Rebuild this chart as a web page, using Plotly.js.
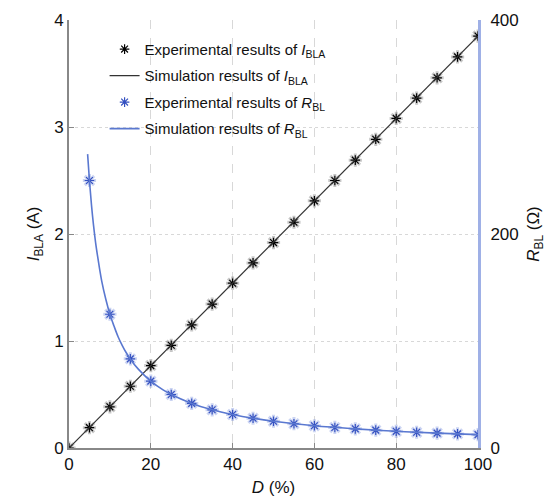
<!DOCTYPE html>
<html>
<head>
<meta charset="utf-8">
<script src="https://cdn.plot.ly/plotly-3.0.1.min.js"></script>
<style>body{margin:0;background:#fff}#c{width:552px;height:500px}</style>
</head>
<body>
<div id="c"></div>
<script>
// Experimental duty cycle D (%)
const dExpI = [0,5,10,15,20,25,30,35,40,45,50,55,60,65,70,75,80,85,90,95,100];
const iExp = [0,0.19,0.385,0.577,0.77,0.96,1.15,1.345,1.54,1.73,1.92,2.11,2.31,2.5,2.69,2.885,3.08,3.27,3.46,3.655,3.85];
const dExpR = [5,10,15,20,25,30,35,40,45,50,55,60,65,70,75,80,85,90,95,100];
const rExp = [250,125,83.3,62.5,50,41.7,35.7,31.3,27.8,25,22.7,20.8,19.2,17.9,16.7,15.6,14.7,13.9,13.2,12.5];
// Simulation curves
const dSimI = [0,100];
const iSim = [0,3.85];
const dSimR = [4.55,5,5.5,6,6.5,7,7.5,8,9,10,11,12,13,14,15,17,20,23,25,30,35,40,45,50,60,70,80,90,100];
const rSim = [274.7,250,227,208,192,179,167,156,139,125,114,104,96,89,83,73.5,62.5,54.3,50,41.7,35.7,31.3,27.8,25,20.8,17.9,15.6,13.9,12.5];

const blue = '#3450c0';
const blueLine = '#5a78d0';

const traces = [
  {x:dExpI, y:iExp, mode:'markers', yaxis:'y', showlegend:false, hoverinfo:'skip',
   marker:{symbol:'asterisk-open', size:11, color:'rgba(0,0,0,0.22)', line:{color:'rgba(0,0,0,0.22)', width:3}}},
  {x:dExpR, y:rExp, mode:'markers', yaxis:'y2', showlegend:false, hoverinfo:'skip',
   marker:{symbol:'asterisk-open', size:11, color:'rgba(70,100,210,0.28)', line:{color:'rgba(70,100,210,0.28)', width:3}}},
  {x:dExpI, y:iExp, mode:'markers', yaxis:'y', legendgroup:'a', name:'Experimental results of <i>I</i><sub>BLA</sub>',
   marker:{symbol:'asterisk-open', size:8, color:'#000', line:{color:'#000', width:1.2}}},
  {x:dSimI, y:iSim, mode:'lines', yaxis:'y', legendgroup:'b', name:'Simulation results of <i>I</i><sub>BLA</sub>',
   line:{color:'#333', width:1.2}},
  {x:dExpR, y:rExp, mode:'markers', yaxis:'y2', legendgroup:'c', name:'Experimental results of <i>R</i><sub>BL</sub>',
   marker:{symbol:'asterisk-open', size:8, color:blue, line:{color:blue, width:1.2}}},
  {x:dSimR, y:rSim, mode:'lines', yaxis:'y2', legendgroup:'d', name:'Simulation results of <i>R</i><sub>BL</sub>',
   line:{color:blueLine, width:1.6, shape:'spline'}}
];

const layout = {
  width:552, height:500,
  margin:{l:69, r:74, t:20, b:52},
  paper_bgcolor:'#fff', plot_bgcolor:'#fff',
  font:{family:'Liberation Sans, Arial, sans-serif', size:17, color:'#111'},
  showlegend:true,
  legend:{x:0.087, y:0.97, xanchor:'left', yanchor:'top', bgcolor:'rgba(0,0,0,0)',
          font:{size:15, color:'#111'}, traceorder:'grouped', tracegroupgap:4},
  xaxis:{range:[0,100], tickvals:[0,20,40,60,80,100], showgrid:true, gridcolor:'#d8d8d8', griddash:'dash',
         zeroline:false, showline:true, linecolor:'#888', linewidth:2, ticks:'inside', ticklen:5, tickcolor:'#888',
         title:{text:'<i>D</i> (%)', font:{size:17}, standoff:8}},
  yaxis:{range:[0,4], tickvals:[0,1,2,3,4], showgrid:true, gridcolor:'#d8d8d8', griddash:'dot',
         zeroline:false, showline:true, linecolor:'#888', linewidth:2, ticks:'inside', ticklen:5, tickcolor:'#888',
         title:{text:'<i>I</i><sub>BLA</sub> (A)', font:{size:17}, standoff:10}},
  yaxis2:{range:[0,400], tickvals:[0,200,400], overlaying:'y', side:'right', showgrid:false,
          zeroline:false, showline:true, linecolor:'#9fb0e6', linewidth:3, ticks:'', ticklabelstandoff:6,
          title:{text:'<i>R</i><sub>BL</sub> (Ω)', font:{size:17}, standoff:10}}
};

Plotly.newPlot('c', traces, layout, {displayModeBar:false, staticPlot:true});
</script>
</body>
</html>
